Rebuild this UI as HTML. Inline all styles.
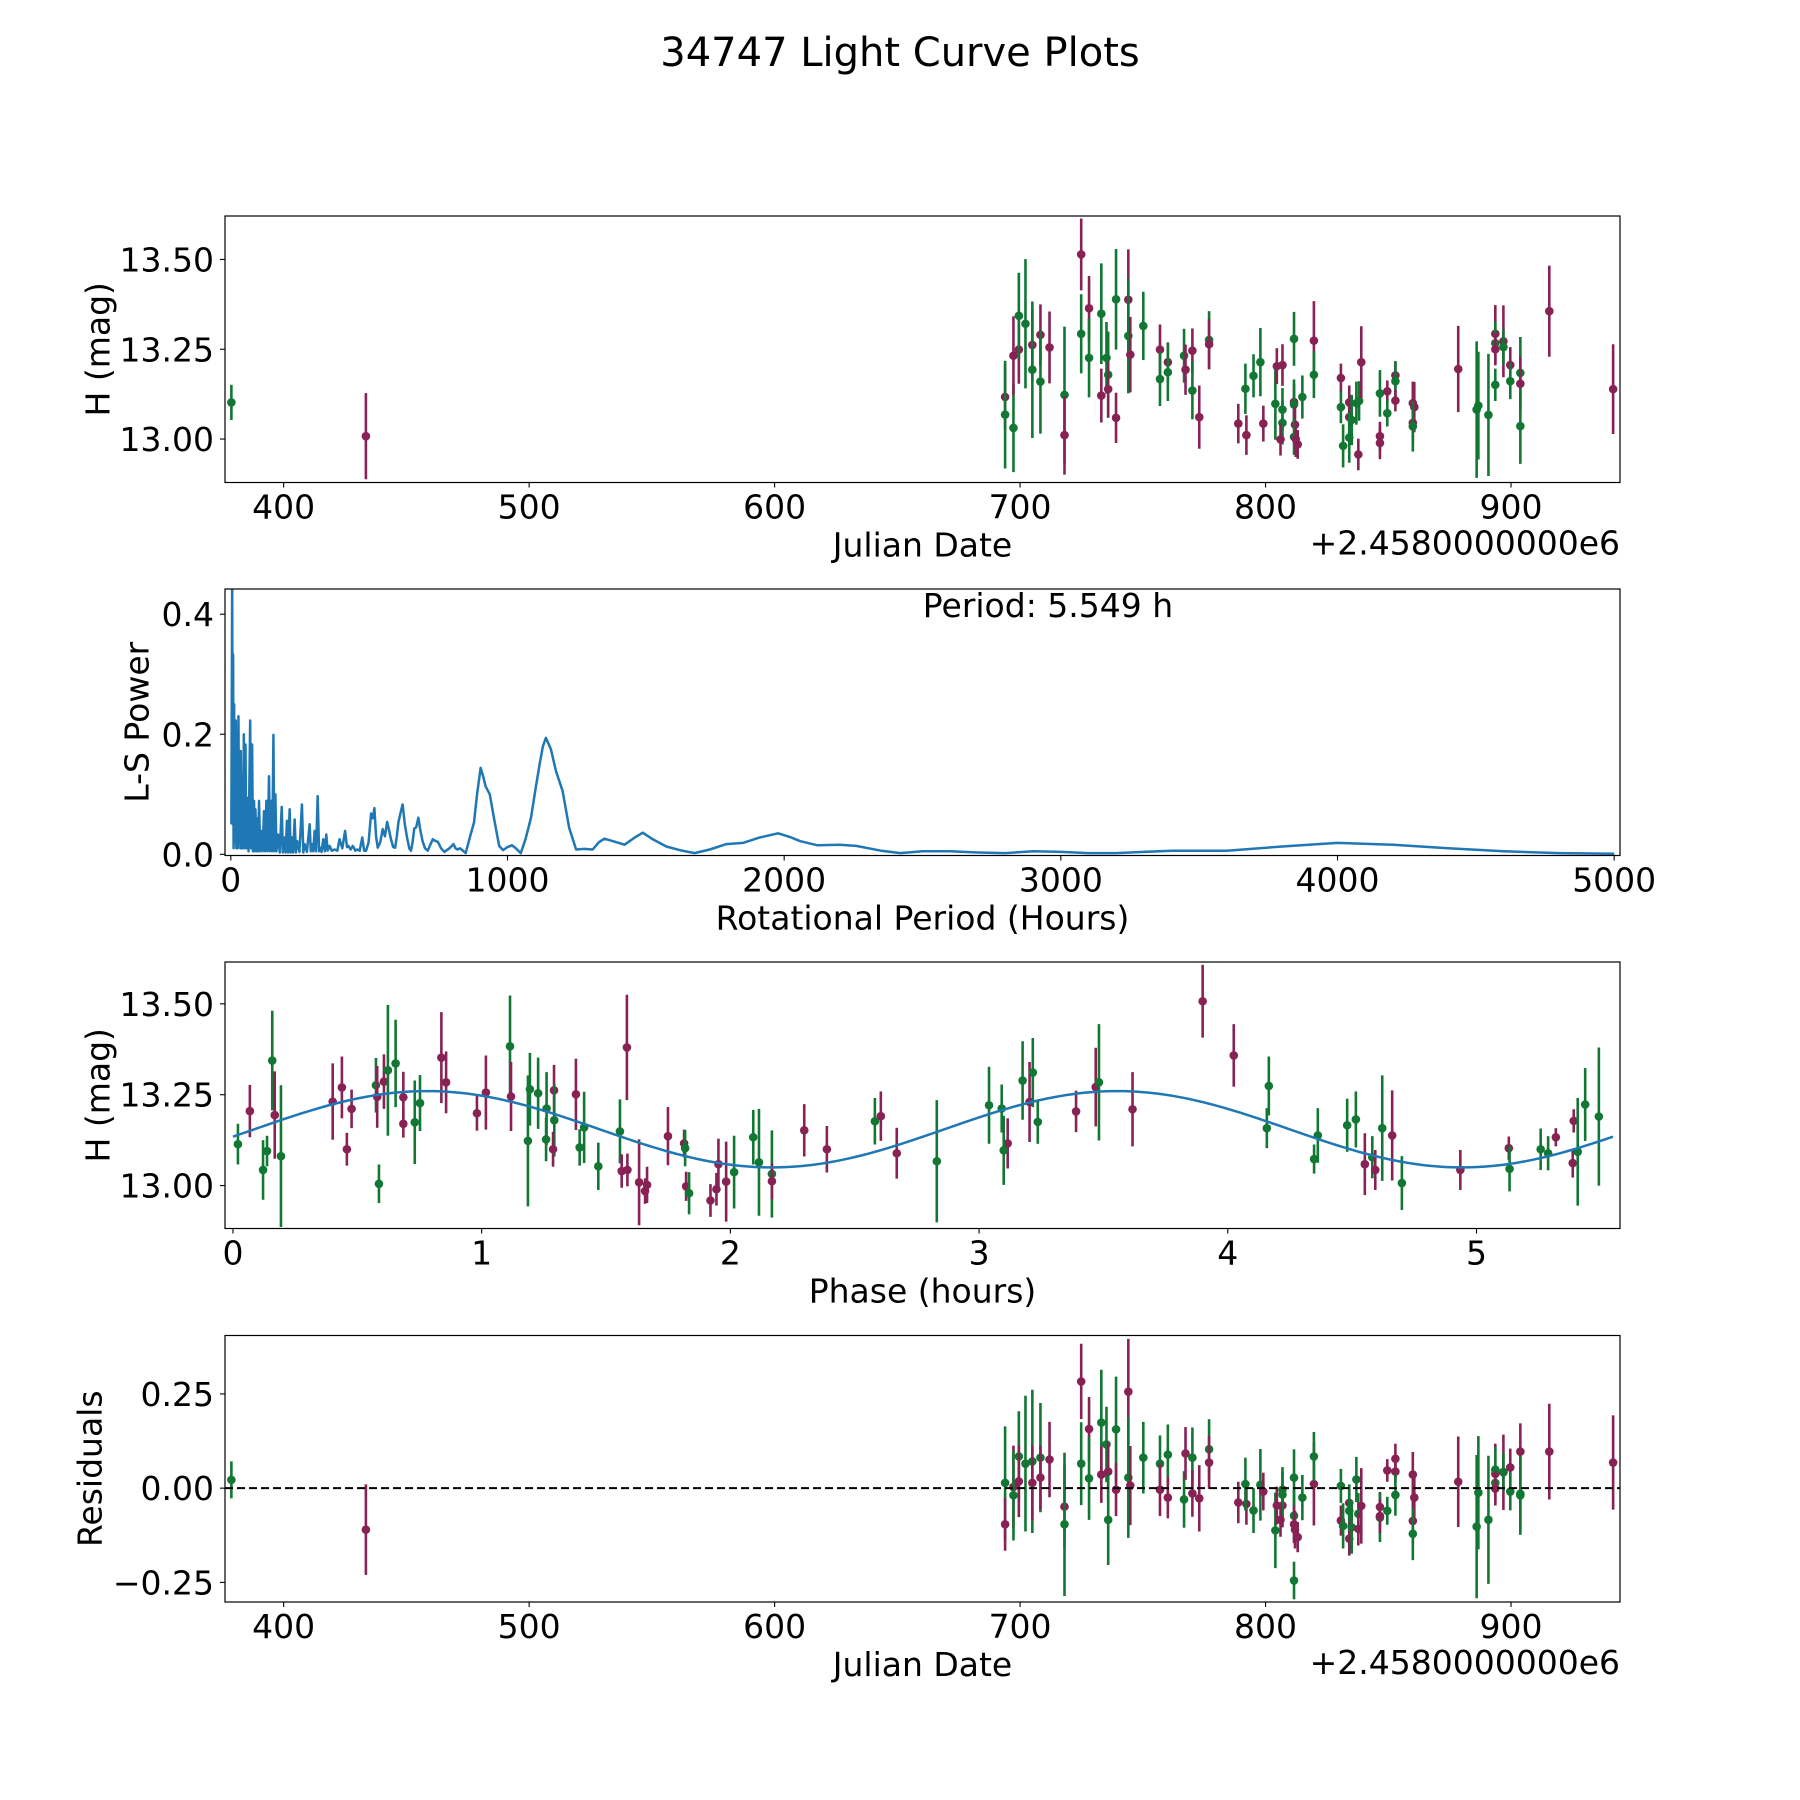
<!DOCTYPE html>
<html><head><meta charset="utf-8"><title>34747 Light Curve Plots</title>
<style>
html,body{margin:0;padding:0;background:#fff;}
svg{display:block;font-family:"DejaVu Sans","Liberation Sans",sans-serif;}
</style></head>
<body>
<svg id="fig" xmlns="http://www.w3.org/2000/svg" width="1800" height="1800" viewBox="0 0 1800 1800">
<rect x="0" y="0" width="1800" height="1800" fill="#fff"/>
<text x="900" y="66" font-size="40" text-anchor="middle">34747 Light Curve Plots</text>
</svg>
<script>
// ---------- Panel 1: light curve ----------
const lcDates = [378.7,433.5,693.9,693.9,697.3,697.3,699.5,699.5,702.2,705.0,705.0,708.3,708.3,712.0,718.1,718.1,724.9,724.9,728.1,728.1,733.1,733.1,735.2,735.9,735.9,739.1,739.1,744.1,744.1,744.9,750.2,757.0,757.0,760.2,760.2,766.8,767.4,770.2,770.2,773.0,777.0,777.0,788.9,791.8,792.2,795.1,797.9,799.1,804.0,804.6,806.9,806.9,806.9,806.1,811.6,811.6,811.6,812.0,811.6,812.3,813.1,815.0,
819.7,819.7,830.7,830.7,831.6,834.1,834.1,834.1,835.1,837.0,838.1,837.8,839.0,846.6,846.6,846.6,849.6,849.6,852.9,852.9,852.9,860.0,860.6,860.0,860.0,878.5,886.0,886.7,890.8,893.6,893.6,893.6,893.6,896.9,896.9,899.7,899.7,903.8,903.8,903.8,915.6,941.6];
const lcMags = [13.102,13.008,13.117,13.068,13.031,13.232,13.249,13.343,13.321,13.262,13.193,13.290,13.160,13.255,13.123,13.011,13.514,13.293,13.364,13.226,13.349,13.121,13.226,13.179,13.139,13.059,13.389,13.388,13.287,13.235,13.315,13.249,13.167,13.214,13.186,13.232,13.193,13.246,13.135,13.061,13.276,13.264,13.043,13.140,13.011,13.176,13.214,13.043,13.098,13.203,13.206,13.082,13.045,12.999,13.279,13.103,13.096,13.040,13.006,13.000,12.985,13.117,
13.274,13.179,13.170,13.089,12.981,13.102,13.061,13.004,13.053,13.100,13.106,12.957,13.214,13.127,13.008,12.989,13.133,13.072,13.177,13.161,13.107,13.100,13.089,13.045,13.035,13.195,13.082,13.093,13.067,13.293,13.267,13.250,13.151,13.272,13.256,13.206,13.161,13.184,13.154,13.036,13.356,13.139];
const lcErrs = [.049,.12,.09,.15,.123,.11,.095,.12,.18,.1,.19,.085,.145,.1,.19,.11,.1,.11,.09,.11,.14,.075,.1,.12,.078,.07,.14,.14,.16,.105,.095,.07,.075,.055,.08,.075,.07,.062,.08,.088,.08,.07,.055,.07,.055,.06,.095,.05,.1,.05,.058,.06,.06,.045,.075,.05,.07,.05,.05,.05,.04,.06,
.11,.065,.04,.045,.06,.047,.045,.07,.07,.06,.055,.044,.1,.065,.04,.045,.03,.037,.04,.055,.03,.06,.07,.06,.07,.12,.19,.15,.17,.08,.06,.045,.045,.1,.05,.05,.05,.1,.075,.105,.127,.125];
const lcBands = ['g','m','m','g','g','m','m','g','g','m','g','m','g','m','g','m','m','g','m','g','g','m','g','g','m','m','g','m','g','m','g','m','g','m','g','g','m','m','g','m','g','m','m','g','m','g','g','m','g','m','m','g','g','m','g','m','g','m','g','m','m','g',
'm','g','m','g','g','m','m','g','g','g','g','m','m','g','m','m','m','g','m','g','m','m','m','m','g','m','g','g','g','m','g','m','g','m','g','m','g','g','m','g','m','m'];

// ---------- Panel 2: periodogram ----------
const lsPeriods = [2,5,6.5,8.4,10,12,14,18,20,23,25,27.6,30,33,34.5,36,40,43,45,47,50,53,56,60,64,70,73,77,80,84,86,89,93,97,99,102,106,110.6,115,120,124,128.6,133,138,142,146.6,150,154,157,161,165,170.7,177,184,188,193.5,198,203,207,212.7,216,220,225,230.8,235,240,248,257,262,267,275,285,289,293,298,303,308,314,319,323,328,334,340,345,350,357,365,375,385,393,403,413,420,425,433,441,450,457,466,475,482,489,498,507,513,519,525,531,540,549,557,565,572,579,587,594,600,606,614,621,629,637,645,651,657,663,670,678,685,693,702,712,720,730,740,748,760,772,790,805,812,820,828,834,849,865,879,890,903,912,921,936,952,970,984,1000,1016,1030,1048,1065,1085,1100,1115,1128,1139,1157,1175,1199,1223,1248,1278,1308,1330,1350,1380,1423,1460,1489,1525,1574,1622,1676,1731,1791,1851,1912,1978,2020,2057,2120,2200,2260,2350,2420,2500,2600,2700,2800,2900,3000,3100,3200,3400,3600,3800,4000,4200,4400,4600,4800,5000];
const lsPowers = [.05,.46,.05,.333,.01,.25,.02,.223,.01,.2,.01,.23,.02,.15,.01,.172,.01,.13,.01,.2,.01,.183,.01,.094,.005,.223,.01,.183,.005,.089,.005,.075,.005,.06,.005,.089,.005,.039,.005,.072,.005,.089,.005,.13,.005,.089,.005,.199,.005,.1,.005,.033,.003,.079,.003,.028,.003,.056,.003,.075,.003,.028,.003,.058,.003,.022,.004,.083,.003,.017,.004,.05,.005,.017,.005,.039,.005,.097,.005,.011,.004,.025,.005,.033,.006,.014,.006,.008,.006,.025,.01,.039,.012,.014,.008,.014,.006,.008,.006,.028,.006,.006,.02,.068,.06,.077,.03,.011,.02,.042,.03,.054,.04,.025,.012,.011,.03,.054,.07,.083,.05,.028,.01,.006,.02,.043,.045,.061,.04,.022,.01,.006,.015,.025,.022,.021,.01,.004,.01,.017,.01,.008,.01,.008,.002,.03,.053,.1,.144,.13,.113,.1,.058,.014,.007,.012,.015,.01,.002,.025,.061,.105,.147,.18,.194,.175,.139,.106,.044,.008,.009,.008,.02,.026,.022,.016,.028,.036,.025,.013,.007,.002,.008,.017,.019,.028,.035,.029,.022,.015,.016,.014,.006,.002,.005,.005,.003,.002,.005,.004,.002,.002,.006,.006,.013,.019,.016,.01,.005,.002,.001];
const bestPeriodLabel = "Period: 5.549 h";

// ---------- Panel 3: phase-folded ----------
const phPhases = [.02,.068,.121,.137,.158,.168,.193,.401,.438,.477,.458,.575,.580,.587,.607,.623,.654,.685,.685,.731,.752,.838,.857,.981,1.017,1.114,1.118,1.186,1.194,1.227,1.261,1.259,1.291,1.292,1.287,1.379,1.412,1.394,1.469,1.556,1.563,1.586,1.584,1.633,1.657,1.665,1.749,1.814,1.818,1.822,1.834,
1.920,1.944,1.952,1.983,2.015,2.092,2.115,2.167,2.167,2.297,2.388,2.581,2.605,2.669,2.830,3.040,3.091,3.115,3.099,3.175,3.203,3.216,3.236,3.390,3.469,3.482,3.617,
3.899,4.024,4.165,4.157,4.347,4.362,4.480,4.515,4.551,4.581,4.593,4.621,4.661,4.700,4.935,5.130,5.133,5.258,5.288,5.319,5.391,5.387,5.407,5.437,5.492];
const phMags = [13.114,13.205,13.043,13.095,13.344,13.194,13.081,13.231,13.270,13.211,13.100,13.276,13.244,13.005,13.286,13.317,13.336,13.243,13.170,13.174,13.227,13.352,13.284,13.199,13.256,13.383,13.245,13.123,13.265,13.254,13.212,13.127,13.262,13.180,13.100,13.251,13.160,13.105,13.053,13.149,13.040,13.043,13.380,13.009,12.985,13.002,13.136,13.116,13.103,12.998,12.979,
12.959,12.990,13.059,13.011,13.037,13.133,13.064,13.032,13.012,13.152,13.100,13.177,13.191,13.089,13.067,13.221,13.212,13.116,13.097,13.289,13.230,13.311,13.175,13.204,13.271,13.284,13.210,
13.507,13.358,13.274,13.158,13.073,13.138,13.166,13.182,13.059,13.078,13.043,13.158,13.138,13.007,13.043,13.103,13.046,13.100,13.089,13.133,13.178,13.062,13.093,13.223,13.190];
const phErrs = [.056,.072,.082,.042,.137,.12,.195,.105,.085,.053,.045,.075,.085,.053,.075,.18,.12,.07,.038,.115,.077,.125,.085,.048,.102,.14,.095,.18,.1,.098,.1,.06,.07,.1,.048,.098,.098,.05,.065,.088,.046,.045,.145,.118,.035,.05,.08,.038,.05,.04,.058,
.045,.045,.07,.11,.1,.075,.147,.12,.05,.072,.064,.064,.068,.07,.168,.106,.066,.069,.095,.108,.11,.095,.06,.057,.108,.16,.102,
.1,.086,.081,.055,.04,.075,.073,.077,.085,.058,.055,.145,.124,.074,.055,.032,.062,.057,.047,.025,.032,.04,.148,.1,.19];
const phBands = ['g','m','g','g','g','m','g','m','m','m','m','g','m','g','m','g','g','m','m','g','g','m','m','m','m','g','m','g','g','g','g','g','m','g','m','m','g','g','g','g','m','m','m','m','m','m','m','m','g','m','g',
'm','m','m','m','g','g','g','g','m','m','m','g','m','m','g','g','g','m','g','g','m','g','g','m','m','g','m',
'm','m','g','g','g','g','g','g','m','g','m','g','m','g','m','m','g','g','g','m','m','m','g','g','g'];
const fitParams = [13.155, 0.105, 5.549, 0.78]; // mean, amplitude, period, peak phase

// ---------- Panel 4: residuals ----------
const resDates = [378.7,433.5,693.9,693.9,697.3,697.3,699.5,699.5,702.2,705.0,705.0,708.3,708.3,712.0,718.1,718.1,724.9,724.9,728.1,728.1,733.1,733.1,735.2,735.9,735.9,739.1,739.1,744.1,744.1,744.9,750.2,757.0,757.0,760.2,760.2,766.8,767.4,770.2,770.2,773.0,777.0,777.0,788.9,792.2,791.8,795.1,797.9,799.1,804.0,804.6,806.9,806.9,806.9,806.1,811.6,811.6,811.6,812.0,813.1,811.6,815.0,
819.7,819.7,830.7,830.7,831.6,834.1,834.1,834.1,835.1,837.0,837.8,837.8,839.0,846.6,846.6,846.6,849.6,849.6,852.9,852.9,852.9,860.0,860.6,860.0,860.0,878.5,886.0,886.7,890.8,893.6,893.6,893.6,893.6,896.9,896.9,899.7,899.7,903.8,903.8,903.8,915.6,941.6];
const resVals = [.022,-.11,.014,-.096,.003,-.019,.084,.018,.065,.071,.014,.081,.028,.076,-.049,-.096,.283,.065,.157,.026,.174,.036,.116,.044,-.084,.156,-.004,.256,.028,.007,.081,.065,-.004,.089,-.025,-.03,.092,.081,-.014,-.027,.103,.068,-.038,-.042,.011,-.059,.009,-.009,-.112,-.046,-.046,-.004,-.017,-.084,.028,-.073,-.096,-.11,-.13,-.245,-.025,
.011,.084,.006,-.086,-.1,-.039,-.06,-.134,-.104,.023,-.068,-.108,-.047,-.05,-.078,-.074,-.06,.047,.078,.044,-.018,.036,-.025,-.087,-.121,.017,-.102,-.012,-.084,.038,.049,.014,-.001,.042,.043,.055,-.009,.097,-.015,-.019,.097,.068];
const resErrs = [.049,.12,.15,.07,.11,.12,.12,.095,.18,.19,.1,.145,.085,.1,.11,.19,.1,.11,.085,.11,.14,.075,.1,.078,.12,.14,.07,.14,.16,.105,.095,.075,.07,.08,.055,.075,.07,.08,.062,.088,.08,.07,.055,.055,.07,.06,.095,.05,.1,.05,.058,.06,.06,.045,.075,.07,.05,.05,.04,.05,.06,
.11,.065,.045,.04,.06,.047,.07,.045,.07,.06,.055,.044,.1,.04,.065,.045,.037,.03,.04,.03,.055,.06,.07,.06,.07,.12,.19,.15,.17,.08,.06,.045,.045,.1,.05,.05,.05,.075,.1,.105,.127,.125];
const resBands = ['g','m','g','m','m','g','g','m','g','g','m','g','m','m','m','g','m','g','m','g','g','m','g','m','g','g','m','m','g','m','g','g','m','g','m','g','m','g','m','m','g','m','m','m','g','g','g','m','g','m','m','g','g','m','g','g','m','m','m','g','g',
'm','g','g','m','g','m','g','m','g','g','g','m','m','m','g','m','g','m','m','m','g','m','m','m','g','m','g','g','g','m','g','g','m','m','g','m','g','m','g','g','m','m'];

// ---------- rendering ----------
const NS = "http://www.w3.org/2000/svg";
const svg = document.getElementById('fig');
const COL = {g:'#117733', m:'#882255'};
function mk(tag, attrs, parent){
  const e = document.createElementNS(NS, tag);
  for (const k in attrs) e.setAttribute(k, attrs[k]);
  (parent||svg).appendChild(e);
  return e;
}
const L = 225, R = 1620, H = 266.5;
const tops = [216, 589, 962, 1335.5];
function lin(d0,d1,r0,r1){ return v => r0 + (v-d0)*(r1-r0)/(d1-d0); }

function axes(idx, xd, yd, xticks, xfmt, yticks, yfmt, xlabel, ylabel, ylabX, offsetText){
  const top = tops[idx], bot = top + H;
  const g = mk('g', {});
  
  
  const sx = lin(xd[0], xd[1], L, R), sy = lin(yd[0], yd[1], bot, top);
  const cid = 'clip' + idx;
  const cp = mk('clipPath', {id: cid}, g);
  mk('rect', {x:L, y:top, width:R-L, height:H}, cp);
  const plot = mk('g', {'clip-path':'url(#'+cid+')'}, g);
  
  
  xticks.forEach(t => {
    const x = sx(t);
    const tk = mk('line', {x1:x, x2:x, y1:bot, y2:bot+5, stroke:'#000', 'stroke-width':1.1}, g);
    
    
    const tl = mk('text', {x:x, y:bot+36, 'font-size':33, 'text-anchor':'middle'}, g);
    tl.textContent = xfmt(t);
    
    
  });
  yticks.forEach(t => {
    const y = sy(t);
    const tk = mk('line', {x1:L-5, x2:L, y1:y, y2:y, stroke:'#000', 'stroke-width':1.1}, g);
    
    
    const tl = mk('text', {x:L-11, y:y+12, 'font-size':33, 'text-anchor':'end'}, g);
    tl.textContent = yfmt(t);
    
    
  });
  const xl = mk('text', {x:(L+R)/2 , y:bot+74, 'font-size':33, 'text-anchor':'middle'}, g);
  xl.textContent = xlabel;
  
  
  const cy = top + H/2;
  const yl = mk('text', {x:ylabX, y:cy, 'font-size':33, 'text-anchor':'middle', dy:'0.35em', transform:'rotate(-90 '+ylabX+' '+cy+')'}, g);
  yl.textContent = ylabel;
  
  
  if (offsetText){
    const ot = mk('text', {x:R, y:bot+72, 'font-size':33, 'text-anchor':'end'}, g);
    ot.textContent = offsetText;
    
    
  }
  return {g, plot, sx, sy, top, bot};
}
function frame(ax){
  const f = mk('rect', {x:L, y:ax.top, width:R-L, height:H, fill:'none', stroke:'#000', 'stroke-width':1.2}, ax.g);
  
  
}
function errPoints(ax, xs, ys, es, bs){
  for (let i = 0; i < xs.length; i++){
    const x = ax.sx(xs[i]), c = COL[bs[i]];
    const eb = mk('line', {x1:x, x2:x, y1:ax.sy(ys[i]-es[i]), y2:ax.sy(ys[i]+es[i]), stroke:c, 'stroke-width':2.6}, ax.plot);
    
    
    const pt = mk('circle', {cx:x, cy:ax.sy(ys[i]), r:4.3, fill:c}, ax.plot);
    
    
  }
}
const f2 = v => v.toFixed(2);
const jdTicks = [400,500,600,700,800,900];
const jdFmt = v => String(v);

// Panel 1
const a1 = axes(0, [376.1,944.4], [12.879,13.621], jdTicks, jdFmt, [13.0,13.25,13.5], f2, 'Julian Date', 'H (mag)', 98, '+2.4580000000e6');
errPoints(a1, lcDates, lcMags, lcErrs, lcBands);
frame(a1);

// Panel 2
const a2 = axes(1, [-21,5021], [-0.002,0.442], [0,1000,2000,3000,4000,5000], v=>String(v), [0,0.2,0.4], v=>v.toFixed(1), 'Rotational Period (Hours)', 'L-S Power', 137, null);
{
  const pts = lsPeriods.map((p,i) => a2.sx(p).toFixed(2)+','+a2.sy(lsPowers[i]).toFixed(2)).join(' ');
  const pl = mk('polyline', {points:pts, fill:'none', stroke:'#1f77b4', 'stroke-width':2.5, 'stroke-linejoin':'round'}, a2.plot);
  
  
  const pt = mk('text', {x:1048, y:617, 'font-size':33, 'text-anchor':'middle'}, a2.g);
  pt.textContent = bestPeriodLabel;
  
  
}
frame(a2);

// Panel 3
const a3 = axes(2, [-0.032,5.577], [12.882,13.615], [0,1,2,3,4,5], v=>String(v), [13.0,13.25,13.5], f2, 'Phase (hours)', 'H (mag)', 98, null);
errPoints(a3, phPhases, phMags, phErrs, phBands);
{
  const [mean, amp, per, pk] = fitParams;
  const pts = [];
  for (let i = 0; i <= 300; i++){
    const p = per * i / 300;
    const v = mean + amp * Math.cos(2*Math.PI*2*(p-pk)/per);
    pts.push(a3.sx(p).toFixed(2)+','+a3.sy(v).toFixed(2));
  }
  const fl = mk('polyline', {points:pts.join(' '), fill:'none', stroke:'#1f77b4', 'stroke-width':2.5}, a3.plot);
  
  
}
frame(a3);

// Panel 4
const a4 = axes(3, [376.1,944.4], [-0.302,0.405], jdTicks, jdFmt, [-0.25,0,0.25], v => (v<0?'\u2212':'') + Math.abs(v).toFixed(2), 'Julian Date', 'Residuals', 90, '+2.4580000000e6');
errPoints(a4, resDates, resVals, resErrs, resBands);
{
  const zl = mk('line', {x1:L, x2:R, y1:a4.sy(0), y2:a4.sy(0), stroke:'#000', 'stroke-width':2, 'stroke-dasharray':'8,4'}, a4.plot);
  
  
}
frame(a4);
</script>
</body></html>
